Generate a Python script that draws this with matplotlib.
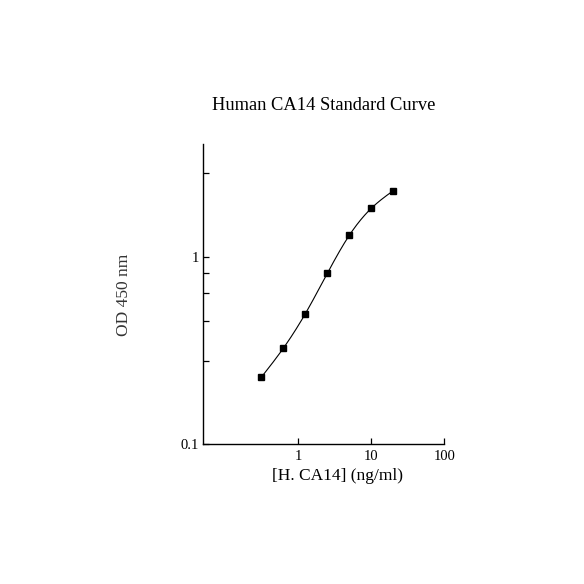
import numpy as np
import matplotlib
matplotlib.use("Agg")
import matplotlib.pyplot as plt
from matplotlib.ticker import FixedLocator, NullFormatter, FixedFormatter

# ---- data ----
conc = [0.3125, 0.625, 1.25, 2.5, 5, 10, 20]
od = [0.228, 0.326, 0.499, 0.821, 1.312, 1.830, 2.274]
x_major = [1, 10, 100]
x_major_labels = ["1", "10", "100"]
y_major = [0.1, 1]
y_major_labels = ["0.1", "1"]
y_minor = [0.28, 0.457, 0.64, 0.82, 2.82]
title = "Human CA14 Standard Curve"
xlabel = "[H. CA14] (ng/ml)"
ylabel = "OD 450 nm"

plt.rcParams['font.family'] = ['Liberation Serif', 'DejaVu Serif']


def natural_spline(xk, yk, xs):
    xk = np.asarray(xk, float)
    yk = np.asarray(yk, float)
    n = len(xk)
    h = np.diff(xk)
    A = np.zeros((n, n))
    b = np.zeros(n)
    A[0, 0] = 1
    A[-1, -1] = 1
    for i in range(1, n - 1):
        A[i, i - 1] = h[i - 1]
        A[i, i] = 2 * (h[i - 1] + h[i])
        A[i, i + 1] = h[i]
        b[i] = 6 * ((yk[i + 1] - yk[i]) / h[i] - (yk[i] - yk[i - 1]) / h[i - 1])
    M = np.linalg.solve(A, b)
    out = np.empty_like(xs)
    for j, x in enumerate(xs):
        i = min(max(np.searchsorted(xk, x) - 1, 0), n - 2)
        t1 = xk[i + 1] - x
        t0 = x - xk[i]
        out[j] = (M[i] * t1 ** 3 + M[i + 1] * t0 ** 3) / (6 * h[i]) \
            + (yk[i] / h[i] - M[i] * h[i] / 6) * t1 \
            + (yk[i + 1] / h[i] - M[i + 1] * h[i] / 6) * t0
    return out


lx = np.log10(conc)
ly = np.log10(od)
xs = np.linspace(lx[0], lx[-1], 300)
ys = natural_spline(lx, ly, xs)

fig = plt.figure(figsize=(5.84, 5.84), dpi=100)
ax = fig.add_axes([0.348, 0.2397, 0.413, 0.5137])
ax.plot(10 ** xs, 10 ** ys, color='black', lw=0.8)
ax.plot(conc, od, 's', color='black', markersize=4.0, lw=0)

ax.set_xscale('log')
ax.set_yscale('log')
ax.set_xlim(0.05, 100)
ax.set_ylim(0.1, 4.04)

ax.xaxis.set_major_locator(FixedLocator(x_major))
ax.xaxis.set_major_formatter(FixedFormatter(x_major_labels))
ax.xaxis.set_minor_locator(FixedLocator([]))
ax.yaxis.set_major_locator(FixedLocator(y_major))
ax.yaxis.set_major_formatter(FixedFormatter(y_major_labels))
ax.yaxis.set_minor_locator(FixedLocator(y_minor))
ax.yaxis.set_minor_formatter(NullFormatter())

for s in ['top', 'right']:
    ax.spines[s].set_visible(False)
for s in ['left', 'bottom']:
    ax.spines[s].set_linewidth(1.0)

ax.tick_params(axis='both', which='both', direction='in', length=4, width=0.9,
               labelsize=10.5, colors='black')
ax.tick_params(axis='y', which='both', pad=3)
ax.tick_params(axis='x', which='both', pad=4.5)

fig.text(323.8 / 584, 1 - 105 / 584, title, ha='center', va='center', fontsize=13.3)
fig.text(337.5 / 584, 1 - 476 / 584, xlabel, ha='center', va='center', fontsize=12.5)
fig.text(124 / 584, 1 - 294.5 / 584, ylabel, ha='center', va='center', rotation=90,
         fontsize=12.5, color='#333333')

fig.savefig('out.png', dpi=100)
